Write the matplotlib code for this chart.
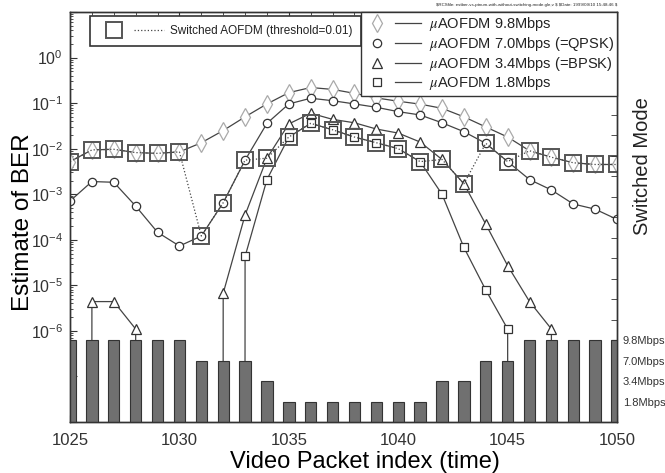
import numpy as np
import matplotlib
matplotlib.use("Agg")
import matplotlib.pyplot as plt
from matplotlib.lines import Line2D
from matplotlib.legend_handler import HandlerTuple
from matplotlib.ticker import FixedLocator, FixedFormatter, LogLocator, NullFormatter

plt.rcParams["font.family"] = ["Liberation Sans", "DejaVu Sans"]
plt.rcParams["mathtext.fontset"] = "custom"
plt.rcParams["mathtext.rm"] = "Liberation Sans"
plt.rcParams["mathtext.it"] = "Liberation Sans:italic"
plt.rcParams["text.color"] = "#222222"

# packet index (time)
packets = np.arange(1025, 1051)

# estimated BER per packet for each fixed mode (0 = no errors)
ber_98 = [5.2e-3, 9.4e-3, 9.7e-3, 8.2e-3, 7.9e-3, 8.5e-3, 1.35e-2, 2.5e-2, 5.0e-2,
          9.6e-2, 0.17, 0.22, 0.20, 0.164, 0.13, 0.11, 0.095, 0.077, 0.050, 0.030,
          0.018, 9.0e-3, 6.5e-3, 4.9e-3, 4.5e-3, 4.5e-3]
ber_70 = [7.1e-4, 1.9e-3, 1.83e-3, 5.5e-4, 1.46e-4, 7.3e-5, 1.21e-4, 6.5e-4, 5.6e-3,
          3.6e-2, 9.6e-2, 0.128, 0.113, 0.096, 0.081, 0.065, 0.055, 0.037, 0.0236,
          0.0131, 5.2e-3, 2.1e-3, 1.24e-3, 6.1e-4, 4.7e-4, 2.8e-4]
ber_34 = [0.0, 4.4e-6, 4.4e-6, 1.1e-6, 0.0, 0.0, 0.0, 6.7e-6, 3.5e-4,
          6.2e-3, 3.5e-2, 6.0e-2, 4.4e-2, 3.7e-2, 2.7e-2, 2.2e-2, 1.4e-2, 5.8e-3,
          1.7e-3, 2.2e-4, 2.7e-5, 4.4e-6, 1.1e-6, 0.0, 0.0, 0.0]
ber_18 = [0.0, 0.0, 0.0, 0.0, 0.0, 0.0, 0.0, 0.0, 4.3e-5,
          2.1e-3, 1.8e-2, 3.6e-2, 2.6e-2, 1.8e-2, 1.35e-2, 1.0e-2, 5.2e-3, 1.0e-3,
          6.8e-5, 7.9e-6, 1.1e-6, 0.0, 0.0, 0.0, 0.0, 0.0]

# mode picked by the switching scheme: 0=9.8, 1=7.0, 2=3.4, 3=1.8 Mbps
switched_mode = [0, 0, 0, 0, 0, 0, 1, 1, 1, 2, 3, 3, 3, 3, 3, 3, 3, 2, 2, 1, 1, 0, 0, 0, 0, 0]
mode_names = ["9.8Mbps", "7.0Mbps", "3.4Mbps", "1.8Mbps"]
series_labels = [r"$\mu$AOFDM 9.8Mbps", r"$\mu$AOFDM 7.0Mbps (=QPSK)",
                 r"$\mu$AOFDM 3.4Mbps (=BPSK)", r"$\mu$AOFDM 1.8Mbps"]

all_ber = np.array([ber_98, ber_70, ber_34, ber_18])
ber_switched = all_ber[switched_mode, np.arange(len(packets))]
bar_level = 4 - np.array(switched_mode)

line_col = "#444444"
dark = "#333333"

fig = plt.figure(figsize=(6.65, 4.73), dpi=100)
ax = fig.add_axes([0.1053, 0.1078, 0.8226, 0.8668])
ax.set_yscale("log", nonpositive="clip")

styles = [
    dict(marker="d", ms=9, mec="#aaaaaa"),
    dict(marker="o", ms=6, mec=dark),
    dict(marker="^", ms=6.5, mec=dark),
    dict(marker="s", ms=6, mec=dark),
]
for ber, st in zip(all_ber, styles):
    ax.plot(packets, ber, color=line_col, lw=0.9, mfc="white", mew=0.9, zorder=3, **st)

# switched curve - big squares joined by a dotted line
ax.plot(packets, ber_switched, color=line_col, ls=":", lw=0.9, marker="s", ms=12,
        mfc="none", mec="#555555", mew=1.4, zorder=4)

ax.set_xlim(1025, 1050)
ax.set_ylim(1e-8, 1e1)

# decade ticks, only 10^-6 .. 10^0 get a label
decades = [10.0 ** k for k in range(-8, 2)]
dec_labels = [r"$\mathregular{10^{%d}}$" % k if -6 <= k <= 0 else "" for k in range(-8, 2)]
ax.yaxis.set_major_locator(FixedLocator(decades))
ax.yaxis.set_major_formatter(FixedFormatter(dec_labels))
ax.yaxis.set_minor_locator(LogLocator(base=10, subs=range(2, 10), numticks=20))
ax.yaxis.set_minor_formatter(NullFormatter())
ax.set_xticks([1025, 1030, 1035, 1040, 1045, 1050])
ax.set_xticks(packets, minor=True)
ax.tick_params(axis="both", which="both", direction="in", top=True, right=False, colors=dark)
ax.tick_params(axis="y", which="major", length=5, pad=5, labelsize=11.5)
ax.tick_params(axis="y", which="minor", length=2.5)
ax.tick_params(axis="x", which="major", length=5, pad=8, labelsize=12)
ax.tick_params(axis="x", which="minor", length=2.5)

ax.set_xlabel("Video Packet index (time)", fontsize=17)
ax.xaxis.set_label_coords(0.54, -0.07)
ax.set_ylabel("Estimate of BER", fontsize=17.5)
ax.yaxis.set_label_coords(-0.066, 0.488)

for sp in ax.spines.values():
    sp.set_color(dark)
    sp.set_linewidth(1.0)

# mode bars on a second axis so they sit at the bottom
ax2 = ax.twinx()
ax2.bar(packets, bar_level, width=0.52, color="#707070", edgecolor=dark, linewidth=0.8, zorder=2)
ax2.set_ylim(0, 20)
ax2.set_xlim(1025, 1050)
ax2.set_yticks([4, 3, 2, 1])
ax2.set_yticklabels(mode_names)
ax2.set_yticks(range(0, 21), minor=True)
ax2.tick_params(axis="y", which="both", direction="in", colors=dark, length=4, pad=4, labelsize=8)
for sp in ax2.spines.values():
    sp.set_color(dark)
    sp.set_linewidth(1.0)

fig.text(642 / 665, 1 - 166 / 473, "Switched Mode", rotation=90, ha="center", va="center",
         fontsize=14.5)

# legends: marker first, then the line sample
tup = {tuple: HandlerTuple(ndivide=None, pad=0.4)}
sw_handle = (Line2D([], [], marker="s", ms=12, mfc="none", mec="#555555", mew=1.4, ls="none"),
             Line2D([], [], color=line_col, ls=":", lw=0.9))
leg1 = ax2.legend([sw_handle], ["Switched AOFDM (threshold=0.01)"], handler_map=tup,
                  loc="upper left", bbox_to_anchor=(0.037, 0.990), borderaxespad=0,
                  fancybox=False, edgecolor=dark, framealpha=1, fontsize=8.5, numpoints=1,
                  handlelength=5.5, borderpad=0.75, handletextpad=0.5)
leg1.get_frame().set_linewidth(1.2)
ax2.add_artist(leg1)

handles = []
for st in styles:
    handles.append((Line2D([], [], ls="none", mfc="white", mew=0.9, **st),
                    Line2D([], [], color=line_col, lw=0.9)))
leg2 = ax2.legend(handles, series_labels, handler_map=tup, loc="upper right",
                  bbox_to_anchor=(1.0, 1.0), borderaxespad=0, fancybox=False,
                  edgecolor=dark, framealpha=1, fontsize=10.5, numpoints=1,
                  handlelength=3.85, labelspacing=0.12, borderpad=0.22, handletextpad=0.55)
leg2.get_frame().set_linewidth(1.0)
for t in leg2.get_texts():
    t.set_math_fontfamily("stix")

fig.text(617 / 665, 1 - 5 / 473,
         "$RCSfile: estber-vs-ptnum-with-without-switching-mode.gle,v $ $Date: 1999/09/10 15:48:46 $",
         ha="right", va="center", fontsize=3.2, parse_math=False)

fig.savefig("out.png", dpi=100)
